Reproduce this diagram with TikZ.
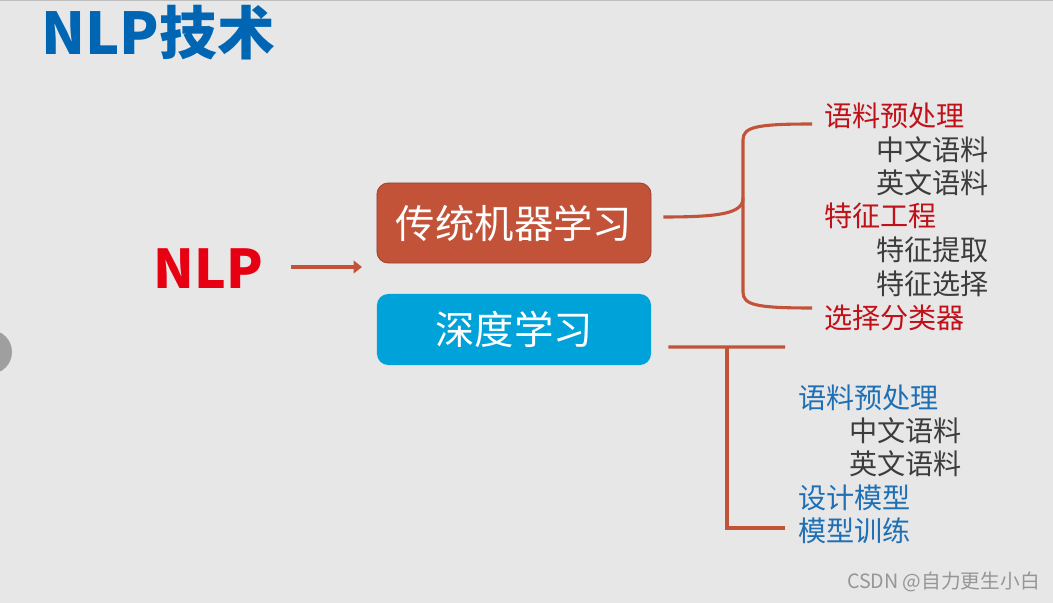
\documentclass[tikz,border=0pt]{standalone}
\usepackage{fontspec}
\setmainfont{Noto Sans CJK SC}
\usetikzlibrary{arrows.meta, positioning, calc}
\definecolor{bggray}{RGB}{231,231,231}
\definecolor{titleblue}{RGB}{0,102,179}
\definecolor{brick}{RGB}{194,82,56}
\definecolor{sky}{RGB}{0,162,218}
\definecolor{darkred}{RGB}{192,16,24}
\definecolor{nlpred}{RGB}{230,0,18}
\definecolor{itemblue}{RGB}{31,111,181}
\definecolor{itemgray}{RGB}{60,60,60}
\definecolor{markgray}{RGB}{150,150,150}

\tikzset{
  box/.style={rounded corners=8pt, minimum width=6.85cm, inner sep=0pt,
    text=white, font=\fontsize{28}{30}\selectfont},
  head/.style={anchor=west, inner sep=0pt, font=\fontsize{20}{22}\selectfont},
  sub/.style={head, text=itemgray},
  link/.style={brick, line width=2.2pt},
}

\begin{document}
\begin{tikzpicture}[x=0.025cm, y=-0.025cm]
  \fill[bggray] (0,0) rectangle (1053,603);
  \useasboundingbox (0,0) rectangle (1053,603);
  \draw[gray!50, line width=1pt] (0,0.5) -- (1053,0.5);
  \fill[gray!75] (-10,352) circle (22);
  % title and root
  \node[titleblue, inner sep=0pt, font=\fontsize{41}{43}\selectfont\bfseries] (title) at (158,33) {NLP技术};
  \node[nlpred, inner sep=0pt, font=\fontsize{38}{40}\selectfont\bfseries] (nlp) at (208,269) {NLP};
  % the two branches
  \node[box, fill=brick, draw=brick!80!black, line width=0.6pt, minimum height=2cm] (ml) at (514,223) {传统机器学习};
  \node[box, fill=sky, minimum height=1.775cm] (dl) at (514,329.5) {深度学习};
  \coordinate (arrowend) at (362,267);
  \draw[brick, line width=3pt, -{Triangle[length=6pt,width=9pt]}, shorten <=0.7cm] (nlp.east |- arrowend) -- (arrowend);
  % traditional branch
  \node[head, darkred] (ml1) at (824,116) {语料预处理};
  \node[sub] (ml2) at (876,150) {中文语料};
  \node[sub] (ml3) at (876,183) {英文语料};
  \node[head, darkred] (ml4) at (824,216) {特征工程};
  \node[sub] (ml5) at (876,250) {特征提取};
  \node[sub] (ml6) at (876,284) {特征选择};
  \node[head, darkred] (ml7) at (824,318) {选择分类器};
  \coordinate (braceup) at (812,124);
  \coordinate (bracedown) at (812,308);
  \draw[link] ($(ml.east)+(12,-6)$) .. controls (722,217) and (743,213) .. (743,198)
    -- (743,140) .. controls (743,127) and (756,124) .. (braceup);
  \draw[link] (743,198) -- (743,292) .. controls (743,305) and (756,308) .. (bracedown);
  % deep learning branch
  \node[head, itemblue] (dl1) at (798,398) {语料预处理};
  \node[sub] (dl2) at (849,431) {中文语料};
  \node[sub] (dl3) at (849,464) {英文语料};
  \node[head, itemblue] (dl4) at (798,498) {设计模型};
  \node[head, itemblue] (dl5) at (798,531) {模型训练};
  \coordinate (barup) at (785,347);
  \coordinate (bardown) at (785,528);
  \draw[link] ($(dl.east)+(17,17.5)$) -- (barup);
  \draw[link] (727,347) |- (bardown);
  % watermark
  \node[markgray, anchor=east, inner sep=0pt, font=\fontsize{14}{16}\selectfont] (mark) at (1040,582) {CSDN @自力更生小白};
\end{tikzpicture}
\end{document}
